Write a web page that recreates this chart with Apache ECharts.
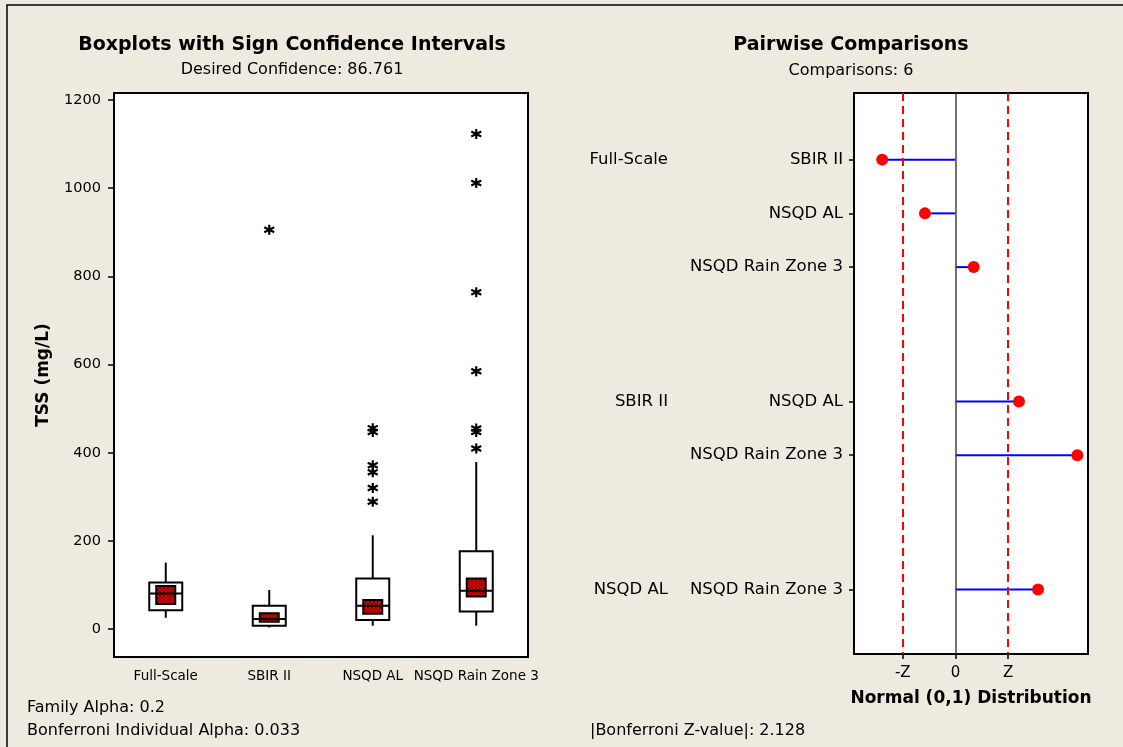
<!DOCTYPE html>
<html>
<head>
<meta charset="utf-8">
<script src="https://cdn.jsdelivr.net/npm/echarts@6/dist/echarts.min.js"></script>
<style>
  html, body { margin: 0; padding: 0; background: #eeeae0; }
  #chart { width: 1123px; height: 747px; }
</style>
</head>
<body>
<div id="chart"></div>
<script>
// left panel: boxplots
const categories = ['Full-Scale', 'SBIR II', 'NSQD AL', 'NSQD Rain Zone 3'];
const whiskerLow = [26, 4, 8, 8];
const q1 = [43, 8, 21, 40];
const median = [81, 23, 53, 87];
const q3 = [106, 53, 115, 177];
const whiskerHigh = [151, 89, 213, 379];
const ciLow = [57, 17, 35, 74];
const ciHigh = [98, 36, 66, 115];
const outliers = [
  [],
  [906],
  [456, 447, 372, 356, 320, 289],
  [1123, 1012, 764, 585, 455, 447, 410]
];
const tssTicks = [0, 200, 400, 600, 800, 1000, 1200];

// right panel: pairwise comparisons
const groupLabels = ['Full-Scale', 'SBIR II', 'NSQD AL'];
const groupRows = [0, 4.5, 8];
const pairLabels = ['SBIR II', 'NSQD AL', 'NSQD Rain Zone 3', 'NSQD AL', 'NSQD Rain Zone 3', 'NSQD Rain Zone 3'];
const pairRows = [0, 1, 2, 4.5, 5.5, 8];
const zStats = [-2.96, -1.23, 0.74, 2.57, 4.93, 3.34];
const zCrit = 2.128;

const FONT = 'DejaVu Sans';

let chartDom = document.getElementById('chart');
let chart = echarts.init(chartDom);

// cross hatched red fill for the confidence squares
const hatch = document.createElement('canvas');
hatch.width = 4;
hatch.height = 4;
let hctx = hatch.getContext('2d');
hctx.fillStyle = '#e00000';
hctx.fillRect(0, 0, 4, 4);
hctx.fillStyle = '#8a0000';
for (let i = 0; i < 4; i++) {
  hctx.fillRect(i, i, 1, 1);
  hctx.fillRect(3 - i, i, 1, 1);
}

let boxData = [];
for (let i = 0; i < categories.length; i++) {
  boxData.push([i, whiskerLow[i], q1[i], median[i], q3[i], whiskerHigh[i], ciLow[i], ciHigh[i]]);
}

let outlierData = [];
for (let i = 0; i < outliers.length; i++) {
  for (let j = 0; j < outliers[i].length; j++) {
    outlierData.push([i, outliers[i][j]]);
  }
}

let pairData = [];
for (let i = 0; i < zStats.length; i++) {
  pairData.push([zStats[i], pairRows[i]]);
}

const rowName = (rows, names) => (v) => {
  for (let i = 0; i < rows.length; i++) {
    if (Math.abs(rows[i] - v) < 1e-6) return names[i];
  }
  return '';
};

const renderBox = (params, api) => {
  let idx = api.value(0);
  let pMin = api.coord([idx, api.value(1)]);
  let pQ1 = api.coord([idx, api.value(2)]);
  let pMed = api.coord([idx, api.value(3)]);
  let pQ3 = api.coord([idx, api.value(4)]);
  let pMax = api.coord([idx, api.value(5)]);
  let pLo = api.coord([idx, api.value(6)]);
  let pHi = api.coord([idx, api.value(7)]);
  let x = pMed[0];
  let hw = 16.5;
  let cw = 9.5;
  let line = { stroke: '#000', lineWidth: 2 };
  return {
    type: 'group',
    children: [
      { type: 'line', shape: { x1: x, y1: pMin[1], x2: x, y2: pQ1[1] }, style: line },
      { type: 'line', shape: { x1: x, y1: pQ3[1], x2: x, y2: pMax[1] }, style: line },
      { type: 'rect', shape: { x: x - hw, y: pQ3[1], width: hw * 2, height: pQ1[1] - pQ3[1] },
        style: { fill: '#fff', stroke: '#000', lineWidth: 2 } },
      { type: 'rect', shape: { x: x - cw, y: pHi[1], width: cw * 2, height: pLo[1] - pHi[1] },
        style: { fill: { image: hatch, repeat: 'repeat' }, stroke: '#000', lineWidth: 2 } },
      { type: 'line', shape: { x1: x - hw, y1: pMed[1], x2: x + hw, y2: pMed[1] }, style: line }
    ]
  };
};

const renderPair = (params, api) => {
  let p0 = api.coord([0, api.value(1)]);
  let p1 = api.coord([api.value(0), api.value(1)]);
  return {
    type: 'group',
    children: [
      { type: 'line', shape: { x1: p0[0], y1: p0[1], x2: p1[0], y2: p1[1] },
        style: { stroke: '#0000ff', lineWidth: 2 } },
      { type: 'circle', shape: { cx: p1[0], cy: p1[1], r: 6 }, style: { fill: '#ff0000' } }
    ]
  };
};

const textStyle = (size, weight) => ({ fontFamily: FONT, fontSize: size, fontWeight: weight, color: '#000' });

let option = {
  backgroundColor: '#eeeae0',
  animation: false,
  title: [
    { text: 'Boxplots with Sign Confidence Intervals', left: 287, top: 31, textAlign: 'center',
      textStyle: textStyle(19, 'bold'),
      subtext: 'Desired Confidence: 86.761', itemGap: 7,
      subtextStyle: textStyle(16, 'normal') },
    { text: 'Pairwise Comparisons', left: 846, top: 31, textAlign: 'center',
      textStyle: textStyle(19, 'bold'),
      subtext: 'Comparisons: 6', itemGap: 8,
      subtextStyle: textStyle(16, 'normal') }
  ],
  graphic: [
    { type: 'rect', shape: { x: 7, y: 5, width: 1140, height: 760 }, silent: true,
      style: { fill: 'none', stroke: '#000', lineWidth: 1.5 } },
    { type: 'text', left: 27, top: 700, style: { text: 'Family Alpha: 0.2', font: '16px ' + FONT, fill: '#000' } },
    { type: 'text', left: 27, top: 723, style: { text: 'Bonferroni Individual Alpha: 0.033', font: '16px ' + FONT, fill: '#000' } },
    { type: 'text', left: 590, top: 723, style: { text: '|Bonferroni Z-value|: 2.128', font: '16px ' + FONT, fill: '#000' } }
  ],
  grid: [
    { left: 114, right: 595, top: 93, bottom: 90, show: true, backgroundColor: '#fff', borderColor: '#000', borderWidth: 2 },
    { left: 854, right: 35, top: 93, bottom: 93, show: true, backgroundColor: '#fff', borderColor: '#000', borderWidth: 2 }
  ],
  xAxis: [
    { gridIndex: 0, type: 'category', data: categories, boundaryGap: true,
      axisLine: { onZero: false, lineStyle: { color: '#000', width: 2 } },
      axisTick: { alignWithLabel: true, length: 5, lineStyle: { color: '#000', width: 1.5 } },
      axisLabel: { interval: 0, margin: 12, ...textStyle(13.5, 'normal') } },
    { gridIndex: 1, type: 'value', min: -4.1, max: 5.36,
      splitLine: { show: false },
      axisLine: { onZero: false, lineStyle: { color: '#000', width: 2 } },
      axisTick: { customValues: [-zCrit, 0, zCrit], length: 5, lineStyle: { color: '#000', width: 1.5 } },
      axisLabel: { customValues: [-zCrit, 0, zCrit], margin: 12, ...textStyle(15, 'normal'),
        formatter: (v) => (v < 0 ? '-Z' : (v > 0 ? 'Z' : '0')) },
      name: 'Normal (0,1) Distribution', nameLocation: 'middle', nameGap: 36,
      nameTextStyle: textStyle(17, 'bold') }
  ],
  yAxis: [
    { gridIndex: 0, type: 'value', min: -63, max: 1216,
      splitLine: { show: false },
      axisLine: { show: true, onZero: false, lineStyle: { color: '#000', width: 2 } },
      axisTick: { show: true, customValues: tssTicks, length: 6, lineStyle: { color: '#000', width: 1.5 } },
      axisLabel: { customValues: tssTicks, margin: 13, ...textStyle(14.5, 'normal'),
        formatter: (v) => String(v) },
      name: 'TSS (mg/L)', nameLocation: 'middle', nameGap: 62, nameRotate: 90,
      nameTextStyle: textStyle(17, 'bold') },
    { gridIndex: 1, type: 'value', min: -1.24, max: 9.2, inverse: true,
      splitLine: { show: false },
      axisLine: { show: true, onZero: false, lineStyle: { color: '#000', width: 2 } },
      axisTick: { show: true, customValues: pairRows, length: 5, lineStyle: { color: '#000', width: 1.5 } },
      axisLabel: { customValues: pairRows, margin: 11, ...textStyle(16.5, 'normal'),
        formatter: rowName(pairRows, pairLabels) } },
    { gridIndex: 1, type: 'value', min: -1.24, max: 9.2, inverse: true, position: 'left',
      splitLine: { show: false }, axisLine: { show: false, onZero: false }, axisTick: { show: false },
      axisLabel: { customValues: groupRows, margin: 186, ...textStyle(16.5, 'normal'),
        formatter: rowName(groupRows, groupLabels) } }
  ],
  series: [
    { type: 'custom', xAxisIndex: 0, yAxisIndex: 0, data: boxData, renderItem: renderBox,
      encode: { x: 0, y: [1, 5] } },
    { type: 'scatter', xAxisIndex: 0, yAxisIndex: 0, data: outlierData, symbolSize: 10,
      symbol: 'path://M5,0L5,10M0.7,2.5L9.3,7.5M0.7,7.5L9.3,2.5',
      itemStyle: { color: 'transparent', borderColor: '#000', borderWidth: 2.2, opacity: 1 } },
    { type: 'custom', xAxisIndex: 1, yAxisIndex: 1, data: pairData, renderItem: renderPair,
      encode: { x: 0, y: 1 }, z: 3,
      markLine: {
        silent: true, symbol: 'none', label: { show: false },
        data: [
          { xAxis: 0, lineStyle: { color: '#444', width: 1.5, type: 'solid' } },
          { xAxis: -zCrit, lineStyle: { color: '#ff0000', width: 2, type: [8, 5] } },
          { xAxis: zCrit, lineStyle: { color: '#ff0000', width: 2, type: [8, 5] } }
        ]
      } }
  ]
};

chart.setOption(option);
</script>
</body>
</html>
